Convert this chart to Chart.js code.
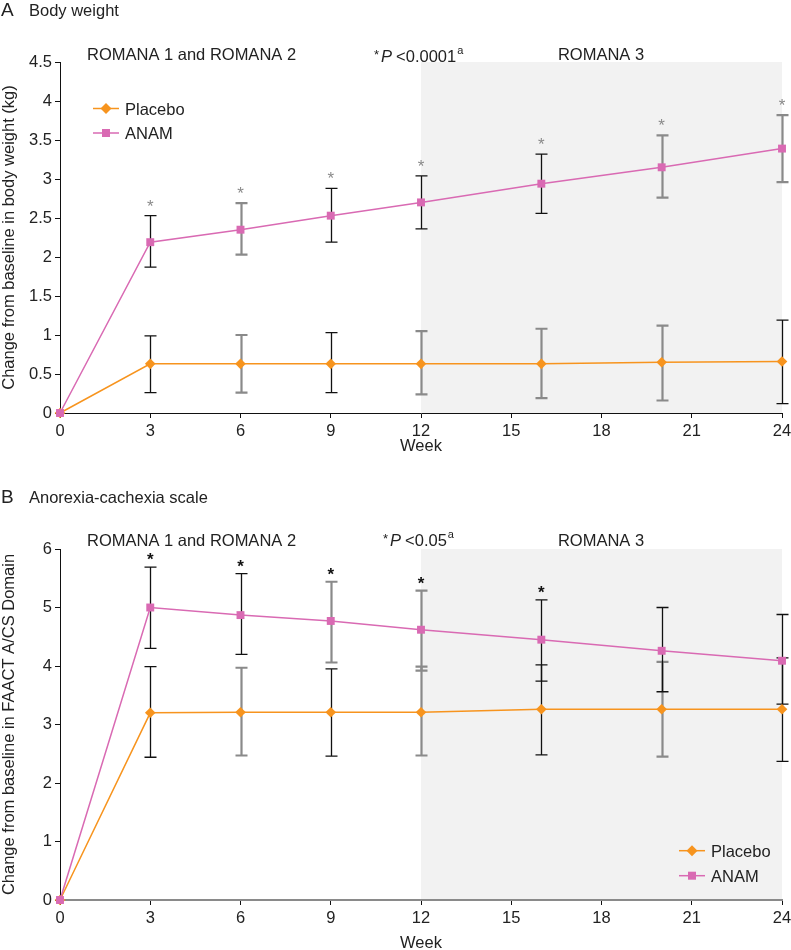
<!DOCTYPE html>
<html>
<head>
<meta charset="utf-8">
<script src="https://cdn.jsdelivr.net/npm/chart.js@4.4.1/dist/chart.umd.min.js"></script>
<style>
  html, body { margin: 0; padding: 0; background: #fff; overflow: hidden; }
  #wrap { position: relative; width: 791px; height: 950px; overflow: hidden; }
  canvas { position: absolute; left: 0; }
  #chartA { top: 0; }
  #chartB { top: 470px; }
</style>
</head>
<body>
<div id="wrap">
  <canvas id="chartA" width="791" height="470"></canvas>
  <canvas id="chartB" width="791" height="490"></canvas>
</div>
<script>
const weeks = [0, 3, 6, 9, 12, 16, 20, 24];

// A - change in body weight (kg)
const weightPlacebo     = [0, 0.63, 0.63, 0.63, 0.63, 0.63, 0.65, 0.66];
const weightPlaceboLow  = [0, 0.26, 0.26, 0.26, 0.24, 0.19, 0.16, 0.12];
const weightPlaceboHigh = [0, 0.99, 1.00, 1.03, 1.05, 1.08, 1.12, 1.19];
const weightAnam        = [0, 2.19, 2.35, 2.53, 2.70, 2.94, 3.15, 3.39];
const weightAnamLow     = [0, 1.87, 2.03, 2.19, 2.36, 2.56, 2.76, 2.96];
const weightAnamHigh    = [0, 2.53, 2.69, 2.88, 3.04, 3.32, 3.56, 3.82];
const weightStars       = [0, 1, 1, 1, 1, 1, 1, 1];

// B - change in FAACT A/CS domain
const faactPlacebo     = [0, 3.20, 3.21, 3.21, 3.21, 3.26, 3.26, 3.26];
const faactPlaceboLow  = [0, 2.44, 2.47, 2.46, 2.47, 2.48, 2.45, 2.37];
const faactPlaceboHigh = [0, 3.99, 3.97, 3.95, 3.99, 4.02, 4.07, 4.14];
const faactAnam        = [0, 5.00, 4.87, 4.77, 4.62, 4.45, 4.26, 4.09];
const faactAnamLow     = [0, 4.30, 4.20, 4.06, 3.92, 3.74, 3.56, 3.35];
const faactAnamHigh    = [0, 5.69, 5.58, 5.44, 5.29, 5.13, 5.00, 4.88];
const faactStars       = [0, 1, 1, 1, 1, 1, 0, 0];

// error bar ink per point: k = thin black, g = thick grey
const inkA = { placebo: 'kkgkgggk', anam: 'kkgkkkgg' };
const inkB = { placebo: 'kkgkgkgk', anam: 'kkkggkkk' };

const ORANGE = '#F7941E';
const PINK = '#D96AB3';
const FONT = '"Liberation Sans", Arial, Helvetica, sans-serif';

Chart.defaults.font.family = FONT;
Chart.defaults.font.size = 16.5;
Chart.defaults.color = '#222';

function toPoints(vals) {
  return vals.map((v, i) => ({ x: weeks[i], y: v }));
}

function marker(ctx, style, color, x, y) {
  ctx.fillStyle = color;
  ctx.beginPath();
  if (style === 'rectRot') {
    const r = 5.5;
    ctx.moveTo(x, y - r); ctx.lineTo(x + r, y); ctx.lineTo(x, y + r); ctx.lineTo(x - r, y);
    ctx.closePath();
  } else {
    ctx.rect(x - 4, y - 4, 8, 8);
  }
  ctx.fill();
}

function drawParts(ctx, parts, x, y) {
  parts.forEach(p => {
    ctx.font = `${p.italic ? 'italic ' : ''}${p.size}px ${FONT}`;
    ctx.fillText(p.text, x, y + (p.dy || 0));
    x += ctx.measureText(p.text).width + (p.gap || 0);
  });
}

const decor = {
  id: 'decor',
  beforeDraw(chart, args, o) {
    const { ctx, chartArea: a, scales: { x } } = chart;
    const x0 = x.getPixelForValue(o.shadeFrom);
    ctx.save();
    ctx.fillStyle = '#f2f2f2';
    ctx.fillRect(x0, a.top, a.right - x0, a.bottom - a.top);
    ctx.restore();
  },
  beforeDatasetsDraw(chart, args, o) {
    const { ctx, scales: { x, y } } = chart;
    ctx.save();
    o.bars.forEach(b => {
      weeks.forEach((w, i) => {
        if (b.low[i] === b.high[i]) return;
        const px = Math.round(x.getPixelForValue(w)) + 0.5;
        const yl = y.getPixelForValue(b.low[i]);
        const yh = y.getPixelForValue(b.high[i]);
        const grey = b.ink[i] === 'g';
        ctx.strokeStyle = grey ? '#8a8a8a' : '#111';
        ctx.lineWidth = grey ? 2.2 : 1.3;
        ctx.beginPath();
        ctx.moveTo(px, yl); ctx.lineTo(px, yh);
        ctx.moveTo(px - 6, yl); ctx.lineTo(px + 6, yl);
        ctx.moveTo(px - 6, yh); ctx.lineTo(px + 6, yh);
        ctx.stroke();
      });
    });
    ctx.restore();
  },
  afterDraw(chart, args, o) {
    const { ctx, scales: { x, y } } = chart;
    ctx.save();
    ctx.textBaseline = 'alphabetic';

    // significance stars
    ctx.textAlign = 'center';
    ctx.fillStyle = o.starColor;
    ctx.font = `${o.starBold ? 'bold ' : ''}17px ${FONT}`;
    o.stars.forEach((s, i) => {
      if (!s) return;
      const px = x.getPixelForValue(weeks[i]);
      const py = y.getPixelForValue(o.starAbove[i]);
      ctx.fillText('*', px, py - o.starGap);
    });

    // heading
    ctx.textAlign = 'left';
    ctx.fillStyle = '#222';
    ctx.font = `19px ${FONT}`;
    ctx.fillText(o.letter, 1, o.headY);
    ctx.font = `16.5px ${FONT}`;
    ctx.fillText(o.heading, 29, o.headY);

    // study labels
    ctx.fillText('ROMANA 1 and ROMANA 2', 87, o.studyY);
    ctx.textAlign = 'center';
    ctx.fillText('ROMANA 3', 601, o.studyY);
    ctx.textAlign = 'left';
    drawParts(ctx, o.pParts, o.pX, o.pY);

    // legend
    const lg = o.legend;
    [['Placebo', ORANGE, 'rectRot', lg.y1], ['ANAM', PINK, 'rect', lg.y2]].forEach(([label, color, style, ly]) => {
      ctx.strokeStyle = color;
      ctx.lineWidth = 1.5;
      ctx.beginPath();
      ctx.moveTo(lg.x1, ly); ctx.lineTo(lg.x2, ly);
      ctx.stroke();
      marker(ctx, style, color, (lg.x1 + lg.x2) / 2, ly);
      ctx.fillStyle = '#222';
      ctx.font = `16.5px ${FONT}`;
      ctx.fillText(label, lg.textX, ly + 6);
    });
    ctx.restore();
  }
};

function makeChart(id, cfg) {
  return new Chart(document.getElementById(id), {
    type: 'line',
    data: {
      datasets: [
        {
          label: 'ANAM', data: toPoints(cfg.anam), order: 0, clip: false,
          borderColor: PINK, backgroundColor: PINK, pointBorderColor: PINK,
          pointStyle: 'rect', pointRadius: 5.6
        },
        {
          label: 'Placebo', data: toPoints(cfg.placebo), order: 1, clip: false,
          borderColor: ORANGE, backgroundColor: ORANGE, pointBorderColor: ORANGE,
          pointStyle: 'rectRot', pointRadius: 5.3
        }
      ]
    },
    options: {
      responsive: false,
      animation: false,
      events: [],
      layout: { padding: { top: cfg.padTop, right: 0, left: 0, bottom: 0 } },
      elements: {
        line: { borderWidth: 1.5, tension: 0 },
        point: { borderWidth: 0 }
      },
      plugins: {
        legend: { display: false },
        tooltip: { enabled: false },
        decor: cfg.decor
      },
      scales: {
        x: {
          type: 'linear', min: 0, max: 24,
          ticks: { stepSize: 3, padding: 4, color: '#222' },
          grid: { drawOnChartArea: false, tickLength: 5, tickColor: '#111' },
          border: { color: cfg.xAxisColor, width: cfg.xAxisWidth },
          title: { display: true, text: 'Week', color: '#222', padding: { top: 0, bottom: cfg.weekPad } },
          afterFit: s => { s.height = cfg.xHeight; s.paddingLeft = 0; s.paddingRight = 9; }
        },
        y: {
          min: 0, max: cfg.yMax,
          ticks: { stepSize: cfg.yStep, padding: 3, color: '#222', callback: v => String(v) },
          grid: { drawOnChartArea: false, tickLength: 5, tickColor: '#111' },
          border: { color: '#111', width: 1 },
          title: { display: true, text: cfg.yTitle, color: '#222', font: { size: 16.5 }, padding: { top: 0, bottom: 0 } },
          afterFit: s => { s.width = 60; }
        }
      }
    },
    plugins: [decor]
  });
}

makeChart('chartA', {
  placebo: weightPlacebo, anam: weightAnam,
  yMax: 4.5, yStep: 0.5,
  yTitle: 'Change from baseline in body weight (kg)',
  padTop: 62, xHeight: 57, weekPad: 14,
  xAxisColor: '#111', xAxisWidth: 1,
  decor: {
    shadeFrom: 12,
    bars: [
      { low: weightPlaceboLow, high: weightPlaceboHigh, ink: inkA.placebo },
      { low: weightAnamLow, high: weightAnamHigh, ink: inkA.anam }
    ],
    stars: weightStars, starAbove: weightAnamHigh, starColor: '#8a8a8a', starBold: false, starGap: 4,
    letter: 'A', heading: 'Body weight', headY: 16,
    studyY: 60,
    pX: 374, pY: 62,
    pParts: [
      { text: '*', size: 13, dy: -3, gap: 2 },
      { text: 'P', size: 16.5, italic: true, gap: 4 },
      { text: '<0.0001', size: 16.5, gap: 1 },
      { text: 'a', size: 11, dy: -8 }
    ],
    legend: { x1: 93, x2: 119, textX: 125, y1: 108.5, y2: 133 }
  }
});

makeChart('chartB', {
  placebo: faactPlacebo, anam: faactAnam,
  yMax: 6, yStep: 1,
  yTitle: 'Change from baseline in FAACT A/CS Domain',
  padTop: 79, xHeight: 60, weekPad: 7,
  xAxisColor: '#8a8a8a', xAxisWidth: 2,
  decor: {
    shadeFrom: 12,
    bars: [
      { low: faactPlaceboLow, high: faactPlaceboHigh, ink: inkB.placebo },
      { low: faactAnamLow, high: faactAnamHigh, ink: inkB.anam }
    ],
    stars: faactStars, starAbove: faactAnamHigh, starColor: '#111', starBold: true, starGap: 2,
    letter: 'B', heading: 'Anorexia-cachexia scale', headY: 33,
    studyY: 76,
    pX: 383, pY: 76,
    pParts: [
      { text: '*', size: 13, dy: -3, gap: 2 },
      { text: 'P', size: 16.5, italic: true, gap: 4 },
      { text: '<0.05', size: 16.5, gap: 1 },
      { text: 'a', size: 11, dy: -8 }
    ],
    legend: { x1: 679, x2: 705, textX: 711, y1: 380.7, y2: 405.7 }
  }
});
</script>
</body>
</html>
